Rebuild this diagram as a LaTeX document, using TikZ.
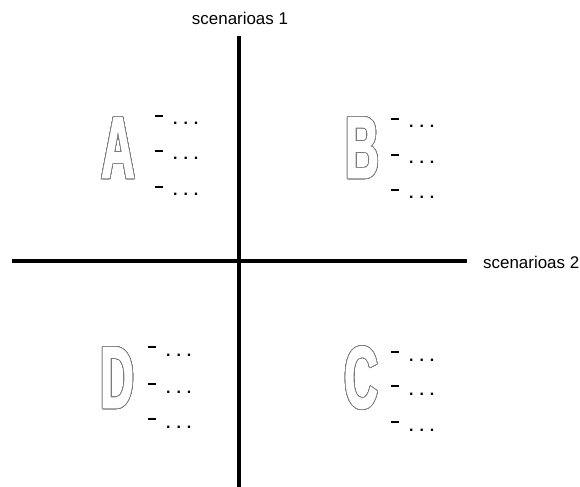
\documentclass[tikz,border=0pt]{standalone}
\usepackage{fontspec}
\setmainfont{Liberation Sans}
\newfontfamily\quadfont{Liberation Sans}[FakeStretch=0.53, FakeBold=1.5]
\usepackage{contour}
\contourlength{0.7bp}
\contournumber{40}
\usetikzlibrary{positioning}
\definecolor{axisInk}{HTML}{000000}
\definecolor{letterLine}{HTML}{7A7A7A}
\newcommand{\hollow}[1]{\contour{letterLine}{#1}}
\newcommand{\dashdots}{\raisebox{7.7bp}{\rule{8bp}{2.6bp}}\hspace{10bp}. . .}

\begin{document}
\begin{tikzpicture}[
    x=1bp, y=-1bp,
    axis/.style={
        draw=axisInk,
        line width=4bp
    },
    axislabel/.style={
        inner sep=0pt,
        font=\fontsize{17}{17}\selectfont,
        text=axisInk
    },
    letter/.style={
        inner sep=0pt,
        font=\fontsize{88}{88}\selectfont\quadfont\bfseries,
        text=white
    },
    row/.style={
        anchor=base west,
        inner sep=0pt,
        font=\fontsize{16}{16}\selectfont\bfseries,
        text=axisInk
    }
]
\useasboundingbox (0,0) rectangle (580,487);

% Axes
\coordinate (axisTop) at (238.5,36);
\coordinate (axisBottom) at (238.5,487);
\coordinate (axisLeft) at (12,261);
\coordinate (axisRight) at (467,261);
\draw[axis] (axisTop) -- (axisBottom);
\draw[axis] (axisLeft) -- (axisRight);

\node[axislabel, anchor=base] (labelOne) at (240,25) {scenarioas 1};
\node[axislabel, anchor=base west] (labelTwo) at (483,268) {scenarioas 2};

% Quadrant letters
\node[letter] (quadA) at (118,148) {\hollow{A}};
\node[letter] (quadB) at (362,148) {\hollow{B}};
\node[letter] (quadD) at (117,378) {\hollow{D}};
\node[letter] (quadC) at (361,378) {\hollow{C}};

% Item rows
\node[row] (rowA1) at (155,125) {\dashdots};
\node[row] (rowA2) at (155,160) {\dashdots};
\node[row] (rowA3) at (155,196) {\dashdots};

\node[row] (rowB1) at (391,128) {\dashdots};
\node[row] (rowB2) at (391,164) {\dashdots};
\node[row] (rowB3) at (391,199) {\dashdots};

\node[row] (rowD1) at (148,356) {\dashdots};
\node[row] (rowD2) at (148,393) {\dashdots};
\node[row] (rowD3) at (148,428) {\dashdots};

\node[row] (rowC1) at (391,361) {\dashdots};
\node[row] (rowC2) at (391,395) {\dashdots};
\node[row] (rowC3) at (391,431) {\dashdots};

\end{tikzpicture}
\end{document}
